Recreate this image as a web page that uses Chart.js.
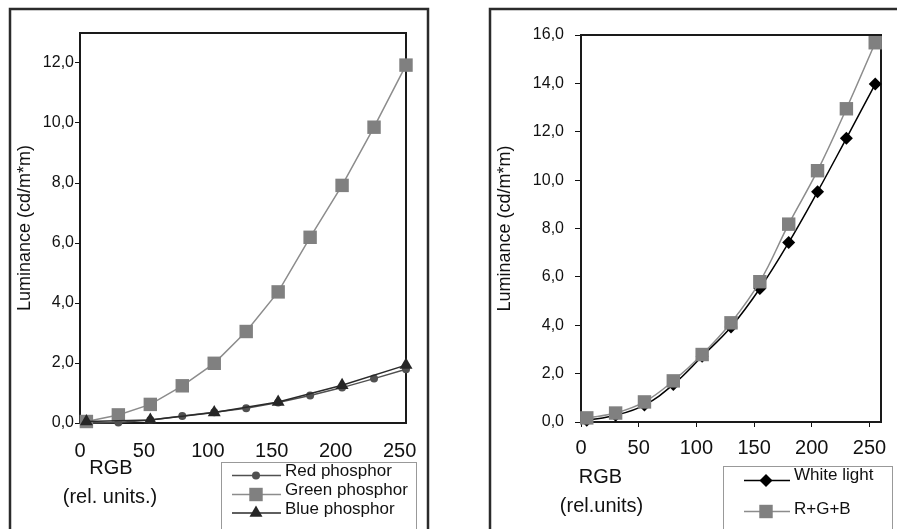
<!DOCTYPE html>
<html>
<head>
<meta charset="utf-8">
<title>Luminance vs RGB level</title>
<script src="https://cdn.jsdelivr.net/npm/chart.js@4.4.0/dist/chart.umd.min.js"></script>
<style>
  body { margin: 0; background: #fff; }
  #wrap { position: relative; width: 897px; height: 529px; overflow: hidden; background: #fff; }
  canvas { position: absolute; top: 0; }
  #phosphorChart { left: 0; }
  #whiteChart { left: 448px; }
</style>
</head>
<body>
<div id="wrap">
  <canvas id="phosphorChart" width="448" height="529"></canvas>
  <canvas id="whiteChart" width="449" height="529"></canvas>
</div>
<script>
// RGB input levels (rel. units)
const rgbLevels = [5, 30, 55, 80, 105, 130, 155, 180, 205, 230, 255];
const blueLevels = [5, 55, 105, 155, 205, 255];

// luminance, cd/m*m
const redPhosphor = [0.0, 0.02, 0.1, 0.23, 0.36, 0.49, 0.68, 0.92, 1.18, 1.48, 1.79];
const greenPhosphor = [0.05, 0.27, 0.62, 1.24, 1.99, 3.05, 4.37, 6.19, 7.92, 9.86, 11.93];
const bluePhosphor = [0.05, 0.1, 0.35, 0.7, 1.26, 1.93];
const whiteLight = [0.07, 0.28, 0.7, 1.55, 2.72, 3.93, 5.52, 7.42, 9.52, 11.73, 13.97];
const rgbSum = [0.17, 0.37, 0.83, 1.7, 2.79, 4.1, 5.8, 8.18, 10.39, 12.95, 15.68];

const xTicks = [0, 50, 100, 150, 200, 250];
const leftYTicks = [0, 2, 4, 6, 8, 10, 12];
const rightYTicks = [0, 2, 4, 6, 8, 10, 12, 14, 16];

const FONT = "'Liberation Sans', Arial, sans-serif";
const INK = '#111';

function toPoints(xs, ys) {
    return xs.map((x, i) => ({ x: x, y: ys[i] }));
}

function commaLabel(v) {
    return v.toFixed(1).replace('.', ',');
}

function fixedTicks(values) {
    return scale => { scale.ticks = values.map(v => ({ value: v })); };
}

// frame, axis caption and legend box drawn around each plot
function decorations(cfg) {
    return {
        id: 'decorations',
        beforeDatasetsDraw(chart) {
            const ctx = chart.ctx;
            const a = chart.chartArea;
            ctx.save();
            ctx.strokeStyle = '#1a1a1a';
            ctx.lineWidth = 2;
            ctx.strokeRect(a.left, a.top, a.right - a.left, a.bottom - a.top);
            ctx.restore();
        },
        afterDraw(chart) {
            const ctx = chart.ctx;
            const h = Chart.helpers;
            ctx.save();

            ctx.strokeStyle = '#2b2b2b';
            ctx.lineWidth = 2.5;
            ctx.strokeRect(cfg.frame[0], cfg.frame[1], cfg.frame[2], cfg.frame[3]);

            ctx.fillStyle = INK;
            ctx.textAlign = 'center';
            ctx.textBaseline = 'middle';
            ctx.font = '20px ' + FONT;
            cfg.caption.forEach(c => ctx.fillText(c.text, c.x, c.y));

            const lg = cfg.legend;
            ctx.strokeStyle = '#999';
            ctx.lineWidth = 1;
            ctx.strokeRect(lg.box[0] + 0.5, lg.box[1] + 0.5, lg.box[2], lg.box[3]);

            ctx.font = '17px ' + FONT;
            ctx.textAlign = 'left';
            lg.rows.forEach(r => {
                ctx.strokeStyle = r.line;
                ctx.lineWidth = 1.5;
                ctx.beginPath();
                ctx.moveTo(lg.x1, r.lineY);
                ctx.lineTo(lg.x2, r.lineY);
                ctx.stroke();
                ctx.fillStyle = r.fill;
                h.drawPoint(ctx, { pointStyle: r.style, radius: r.radius, rotation: 0, borderWidth: 0 }, lg.mx, r.lineY);
                ctx.fillStyle = INK;
                ctx.fillText(r.text, lg.tx, r.textY);
            });
            ctx.restore();
        }
    };
}

function buildScales(o) {
    return {
        x: {
            type: 'linear',
            min: 0,
            max: o.xMax,
            afterBuildTicks: fixedTicks(xTicks),
            afterFit: s => { s.height = o.xHeight; },
            grid: { display: o.xTickMarks, drawOnChartArea: false, tickLength: 5, color: INK },
            border: { display: true, color: INK, width: 2 },
            ticks: { padding: o.xPad, color: INK, font: { family: FONT, size: 20 } }
        },
        y: {
            min: 0,
            max: o.yMax,
            afterBuildTicks: fixedTicks(o.yTicks),
            afterFit: s => { s.width = o.yWidth; },
            grid: { drawOnChartArea: false, tickLength: o.yTickLen, color: INK },
            border: { display: true, color: INK, width: 2 },
            ticks: { padding: o.yPad, color: INK, font: { family: FONT, size: 16 }, callback: commaLabel },
            title: {
                display: true,
                text: 'Luminance (cd/m*m)',
                color: INK,
                font: { family: FONT, size: 18 },
                padding: { top: o.titlePad, bottom: 0 }
            }
        }
    };
}

const baseOptions = {
    responsive: false,
    animation: false,
    events: [],
    plugins: { legend: { display: false }, tooltip: { enabled: false } },
    elements: { point: { borderWidth: 0 }, line: { borderWidth: 1.5 } }
};

new Chart(document.getElementById('phosphorChart'), {
    type: 'line',
    data: {
        datasets: [
            {
                label: 'Red phosphor', data: toPoints(rgbLevels, redPhosphor),
                borderColor: '#505050', backgroundColor: '#505050',
                pointStyle: 'circle', pointRadius: 4, tension: 0, clip: false, order: 2
            },
            {
                label: 'Green phosphor', data: toPoints(rgbLevels, greenPhosphor),
                borderColor: '#8c8c8c', backgroundColor: '#808080',
                pointStyle: 'rect', pointRadius: 9.5, tension: 0, clip: false, order: 1
            },
            {
                label: 'Blue phosphor', data: toPoints(blueLevels, bluePhosphor),
                borderColor: '#2a2a2a', backgroundColor: '#262626',
                pointStyle: 'triangle', pointRadius: 7.5, tension: 0, clip: false, order: 0
            }
        ]
    },
    options: Object.assign({}, baseOptions, {
        layout: { padding: { top: 33, right: 42, left: 0, bottom: 0 } },
        scales: buildScales({
            xMax: 255, xHeight: 106, xTickMarks: false, xPad: 11,
            yMax: 13, yTicks: leftYTicks, yWidth: 80, yTickLen: 5, yPad: 1, titlePad: 14
        })
    }),
    plugins: [decorations({
        frame: [10, 9, 418, 560],
        caption: [
            { text: 'RGB', x: 111, y: 468 },
            { text: '(rel. units.)', x: 110, y: 497 }
        ],
        legend: {
            box: [221, 462, 195, 100],
            x1: 232, x2: 281, mx: 256, tx: 285,
            rows: [
                { text: 'Red phosphor', style: 'circle', radius: 4, fill: '#505050', line: '#505050', lineY: 475.5, textY: 471.5 },
                { text: 'Green phosphor', style: 'rect', radius: 9.5, fill: '#808080', line: '#8c8c8c', lineY: 494.5, textY: 490 },
                { text: 'Blue phosphor', style: 'triangle', radius: 7.5, fill: '#262626', line: '#2a2a2a', lineY: 513, textY: 509 }
            ]
        }
    })]
});

new Chart(document.getElementById('whiteChart'), {
    type: 'line',
    data: {
        datasets: [
            {
                label: 'White light', data: toPoints(rgbLevels, whiteLight),
                borderColor: '#000', backgroundColor: '#000',
                pointStyle: 'rectRot', pointRadius: 6.5, tension: 0.4, clip: false, order: 1
            },
            {
                label: 'R+G+B', data: toPoints(rgbLevels, rgbSum),
                borderColor: '#8c8c8c', backgroundColor: '#808080',
                pointStyle: 'rect', pointRadius: 9.5, tension: 0.4, clip: false, order: 0
            }
        ]
    },
    options: Object.assign({}, baseOptions, {
        layout: { padding: { top: 35, right: 16, left: 0, bottom: 0 } },
        scales: buildScales({
            xMax: 260, xHeight: 107, xTickMarks: true, xPad: 9,
            yMax: 16, yTicks: rightYTicks, yWidth: 133, yTickLen: 6, yPad: 11, titlePad: 46
        })
    }),
    plugins: [decorations({
        frame: [42, 9, 500, 560],
        caption: [
            { text: 'RGB', x: 152.5, y: 477 },
            { text: '(rel.units)', x: 153.5, y: 506 }
        ],
        legend: {
            box: [275, 466, 169, 100],
            x1: 296, x2: 342, mx: 318, tx: 346,
            rows: [
                { text: 'White light', style: 'rectRot', radius: 6.5, fill: '#000', line: '#000', lineY: 480.5, textY: 475 },
                { text: 'R+G+B', style: 'rect', radius: 9.5, fill: '#808080', line: '#8c8c8c', lineY: 511.5, textY: 509 }
            ]
        }
    })]
});
</script>
</body>
</html>
